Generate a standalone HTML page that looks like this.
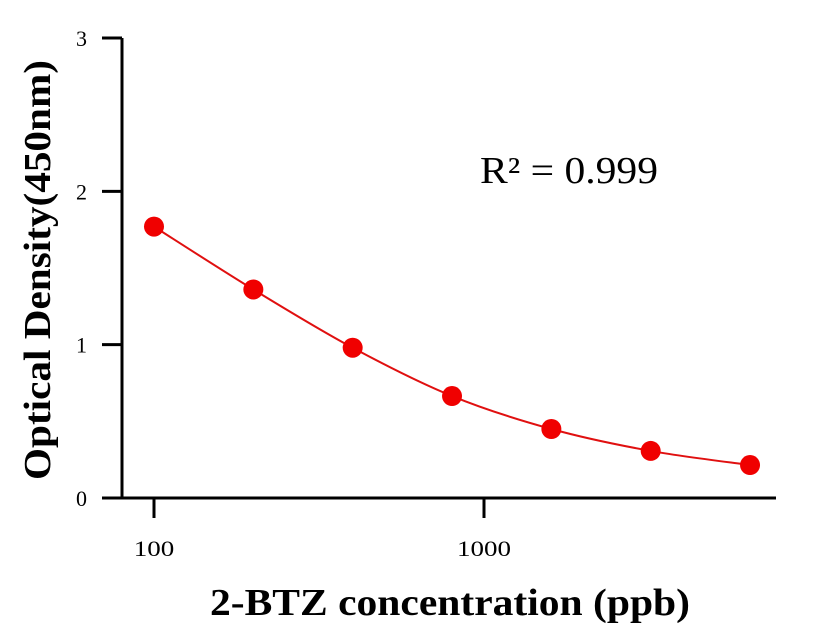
<!DOCTYPE html>
<html><head><meta charset="utf-8"><style>
html,body{margin:0;padding:0;background:#fff}
svg{display:block;font-family:"Liberation Serif",serif}
</style></head><body>
<svg id="chart" width="816" height="640" viewBox="0 0 816 640"></svg>
<script>
const concentrations=[100,200,400,800,1600,3200,6400];
const odValues=[1.77,1.36,0.98,0.665,0.45,0.307,0.215];
const yTicks=[0,1,2,3];
const xTicks=[100,1000];
const svg=document.getElementById('chart');
const NS='http://www.w3.org/2000/svg';
const x0=122,x1=776,y0=498,yTop=38;
function xs(v){return 154+(Math.log10(v)-2)*330;}
function ys(v){return y0-(v/3)*(y0-yTop);}
function mk(t,a,p){const e=document.createElementNS(NS,t);for(const k in a)e.setAttribute(k,a[k]);(p||svg).appendChild(e);return e;}
let e;
e=mk('line',{x1:x0,y1:yTop,x2:x0,y2:y0+1,stroke:'#000','stroke-width':3});


e=mk('line',{x1:x0-1.5,y1:y0,x2:x1,y2:y0,stroke:'#000','stroke-width':3});


yTicks.forEach(t=>{
 const y=ys(t);
 e=mk('line',{x1:102,y1:y,x2:x0,y2:y,stroke:'#000','stroke-width':3});
 
 
 e=mk('text',{x:87,y:y+8,'font-size':22,'text-anchor':'end'});
 e.textContent=t;
 
 
});
xTicks.forEach(t=>{
 const x=xs(t);
 e=mk('line',{x1:x,y1:y0,x2:x,y2:518,stroke:'#000','stroke-width':3});
 
 
 e=mk('text',{x:x,y:556,'font-size':22,'text-anchor':'middle',textLength:String(t).length*13.5,lengthAdjust:'spacingAndGlyphs'});
 e.textContent=t;
 
 
});
const P=concentrations.map((c,i)=>[xs(c),ys(odValues[i])]);
let d='M'+P[0][0]+','+P[0][1];
for(let i=0;i<P.length-1;i++){
 const p0=P[i-1]||P[i],p1=P[i],p2=P[i+1],p3=P[i+2]||P[i+1];
 const c1=[p1[0]+(p2[0]-p0[0])/6,p1[1]+(p2[1]-p0[1])/6];
 const c2=[p2[0]-(p3[0]-p1[0])/6,p2[1]-(p3[1]-p1[1])/6];
 d+=' C'+c1+' '+c2+' '+p2;
}
e=mk('path',{d:d,fill:'none',stroke:'#e01010','stroke-width':2});


P.forEach(p=>{
 e=mk('circle',{cx:p[0],cy:p[1],r:10,fill:'#f00000'});
 
 
});
e=mk('text',{x:480,y:183,'font-size':38,textLength:178,lengthAdjust:'spacingAndGlyphs'});
e.textContent='R² = 0.999';


e=mk('text',{x:210,y:615,'font-size':38,'font-weight':'bold',textLength:480,lengthAdjust:'spacingAndGlyphs'});
e.textContent='2-BTZ concentration (ppb)';


e=mk('text',{x:0,y:0,'font-size':38,'font-weight':'bold',transform:'translate(50,480) rotate(-90)',textLength:420,lengthAdjust:'spacingAndGlyphs'});
e.textContent='Optical Density(450nm)';


</script>
</body></html>
